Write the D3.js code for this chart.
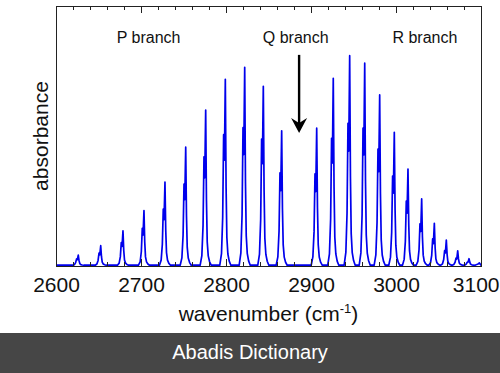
<!DOCTYPE html>
<html><head><meta charset="utf-8">
<script src="https://cdn.jsdelivr.net/npm/d3@7/dist/d3.min.js"></script>
<style>html,body{margin:0;padding:0;background:#fff;} svg{display:block;}</style>
</head><body>
<svg id="chart" width="500" height="373"></svg>
<script>
// ---- data ----
// H35Cl line centres (cm^-1), main peak absorbance and H37Cl shoulder absorbance
const pBranchWavenumber = [2626.2, 2652.6, 2678.8, 2703.5, 2728.2, 2752.6, 2776.1, 2799.2, 2822.0, 2843.9, 2865.5];
const pBranchPeak       = [0.042, 0.078, 0.135, 0.213, 0.323, 0.457, 0.600, 0.718, 0.764, 0.691, 0.520];
const pBranchShoulder   = [0.027, 0.050, 0.090, 0.145, 0.219, 0.315, 0.420, 0.505, 0.532, 0.488, 0.358];
const rBranchWavenumber = [2906.7, 2926.2, 2945.5, 2963.2, 2980.8, 2998.0, 3014.1, 3030.2, 3045.1, 3059.2, 3072.6, 3085.9, 3098.0];
const rBranchPeak       = [0.530, 0.722, 0.809, 0.780, 0.658, 0.514, 0.373, 0.258, 0.164, 0.100, 0.058, 0.028, 0.012];
const rBranchShoulder   = [0.354, 0.491, 0.549, 0.530, 0.450, 0.346, 0.250, 0.162, 0.104, 0.059, 0.030, 0.015, 0.007];
const isotopeShift = 2.0;      // H37Cl shoulder sits ~2 cm^-1 below each line
const baselineAbs = 0.003;

const xDomain = [2600, 3100];
const yDomain = [0, 1];
const majorTickValues = [2600, 2700, 2800, 2900, 3000, 3100];
const majorTickLabels = ["2600", "2700", "2800", "2900", "3000", "3100"];
const minorTickValues = [2600,2620,2640,2660,2680,2700,2720,2740,2760,2780,2800,2820,2840,2860,2880,2900,
                         2920,2940,2960,2980,3000,3020,3040,3060,3080,3100];

const branchLabels = ["P branch", "Q branch", "R branch"];
const branchLabelWavenumber = [2709, 2882, 3034];
const branchLabelAbs = 0.856;
const arrowWavenumber = 2886;
const arrowFromAbs = 0.812, arrowToAbs = 0.512;

const xTitle = "wavenumber (cm", xTitleSup = "-1", xTitleEnd = ")";
const yTitle = "absorbance";
const footerText = "Abadis Dictionary";

// ---- layout ----
const W = 500, H = 373;
const plot = {left: 56, right: 481, top: 6, bottom: 266};
const svg = d3.select("#chart");
const FONT = "'Liberation Sans', Arial, Helvetica, sans-serif";

const x = d3.scaleLinear().domain(xDomain).range([plot.left, plot.right]);
const y = d3.scaleLinear().domain(yDomain).range([plot.bottom, plot.top]);

svg.append("rect").attr("width", W).attr("height", H).attr("fill", "#fff");

// spectrum line: each peak drawn from its centre / peak / shoulder values with a fixed line-shape template
// template rows: [offset from centre (cm^-1), weight of shoulder, weight of main peak]
const lineShape = [
  [-6.5, 0, 0], [-4.5, 0.06, 0.02], [-3.1, 0.32, 0.03], [-2.0, 1, 0], [-1.1, 0.8, 0],
  [0, 0, 1], [0.9, 0, 0.42], [1.8, 0, 0.15], [3.0, 0, 0.06], [4.6, 0, 0.022], [6.5, 0, 0]
];
const peaks = [];
pBranchWavenumber.forEach((c, i) => peaks.push({c, h: pBranchPeak[i], s: pBranchShoulder[i]}));
rBranchWavenumber.forEach((c, i) => peaks.push({c, h: rBranchPeak[i], s: rBranchShoulder[i]}));
let pts = [[xDomain[0], baselineAbs]];
peaks.forEach(p => {
  lineShape.forEach(([off, ws, wh]) => {
    const dx = off === -2.0 ? -isotopeShift : off;
    pts.push([p.c + dx, baselineAbs + ws * (p.s - (off === -2.0 ? baselineAbs : 0)) + wh * (p.h - (off === 0 ? baselineAbs : 0))]);
  });
});
pts.push([xDomain[1], baselineAbs]);
pts.sort((a, b) => a[0] - b[0]);

svg.append("clipPath").attr("id", "clip").append("rect")
  .attr("x", plot.left).attr("y", plot.top - 2)
  .attr("width", plot.right - plot.left).attr("height", plot.bottom - plot.top + 2);

svg.append("path")
  .datum(pts)
  .attr("clip-path", "url(#clip)")
  .attr("fill", "none")
  .attr("stroke", "#0000ec")
  .attr("stroke-width", 1.7)
  .attr("stroke-linejoin", "round")
  .attr("d", d3.line().x(d => x(d[0])).y(d => y(d[1])));

// axes (ticks pointing inward)
const axColor = "#222";
function styleAxis(g) {
  g.select(".domain").remove();
  g.selectAll(".tick line").attr("stroke", axColor).attr("stroke-width", 1);
}
svg.append("g").attr("transform", `translate(0,${plot.bottom})`)
  .call(d3.axisBottom(x).tickValues(minorTickValues).tickSizeInner(-4).tickSizeOuter(0).tickFormat(""))
  .call(styleAxis);
svg.append("g").attr("transform", `translate(0,${plot.top})`)
  .call(d3.axisTop(x).tickValues(minorTickValues).tickSizeInner(-4).tickSizeOuter(0).tickFormat(""))
  .call(styleAxis);
svg.append("g").attr("transform", `translate(0,${plot.top})`)
  .call(d3.axisTop(x).tickValues(majorTickValues).tickSizeInner(-7).tickSizeOuter(0).tickFormat(""))
  .call(styleAxis);
const xb = svg.append("g").attr("transform", `translate(0,${plot.bottom})`)
  .call(d3.axisBottom(x).tickValues(majorTickValues).tickSizeInner(-7).tickSizeOuter(0).tickPadding(11)
        .tickFormat((d, i) => majorTickLabels[i]))
  .call(styleAxis);
xb.selectAll(".tick text").attr("font-family", FONT).attr("font-size", 21).attr("fill", "#111");
// keep the last label inside the picture (the reference shows it touching the right edge)
xb.selectAll(".tick text").filter(d => d === xDomain[1])
  .attr("text-anchor", "end").attr("x", W - 1 - x(xDomain[1]));

// frame
svg.append("rect")
  .attr("x", plot.left + 0.5).attr("y", plot.top + 0.5)
  .attr("width", plot.right - plot.left).attr("height", plot.bottom - plot.top)
  .attr("fill", "none").attr("stroke", axColor).attr("stroke-width", 1);

// branch labels
svg.selectAll("text.branch").data(branchLabels).enter().append("text")
  .attr("class", "branch")
  .attr("x", (d, i) => x(branchLabelWavenumber[i]))
  .attr("y", y(branchLabelAbs))
  .attr("text-anchor", "middle")
  .attr("font-family", FONT).attr("font-size", 16).attr("fill", "#111")
  .text(d => d);

// Q-branch arrow
const ax = x(arrowWavenumber), ay0 = y(arrowFromAbs), ay1 = y(arrowToAbs);
svg.append("line").attr("x1", ax).attr("x2", ax).attr("y1", ay0).attr("y2", ay1 - 8)
  .attr("stroke", "#000").attr("stroke-width", 2.4);
svg.append("path")
  .attr("d", `M${ax},${ay1} L${ax - 8},${ay1 - 15} L${ax},${ay1 - 10} L${ax + 8},${ay1 - 15} Z`)
  .attr("fill", "#000");

// axis titles
const xt = svg.append("text")
  .attr("x", (plot.left + plot.right) / 2).attr("y", 321)
  .attr("text-anchor", "middle")
  .attr("font-family", FONT).attr("font-size", 21).attr("fill", "#111");
xt.append("tspan").text(xTitle);
xt.append("tspan").attr("font-size", 13).attr("dy", -8).text(xTitleSup);
xt.append("tspan").attr("dy", 8).text(xTitleEnd);

svg.append("text")
  .attr("transform", `translate(48,${(plot.top + plot.bottom) / 2}) rotate(-90)`)
  .attr("text-anchor", "middle")
  .attr("font-family", FONT).attr("font-size", 21).attr("fill", "#111")
  .text(yTitle);

// footer band
svg.append("rect").attr("x", 0).attr("y", 333).attr("width", W).attr("height", H - 333).attr("fill", "#464646");
svg.append("text").attr("x", W / 2).attr("y", 359)
  .attr("text-anchor", "middle")
  .attr("font-family", FONT).attr("font-size", 20).attr("fill", "#fff")
  .text(footerText);
</script>
</body></html>
